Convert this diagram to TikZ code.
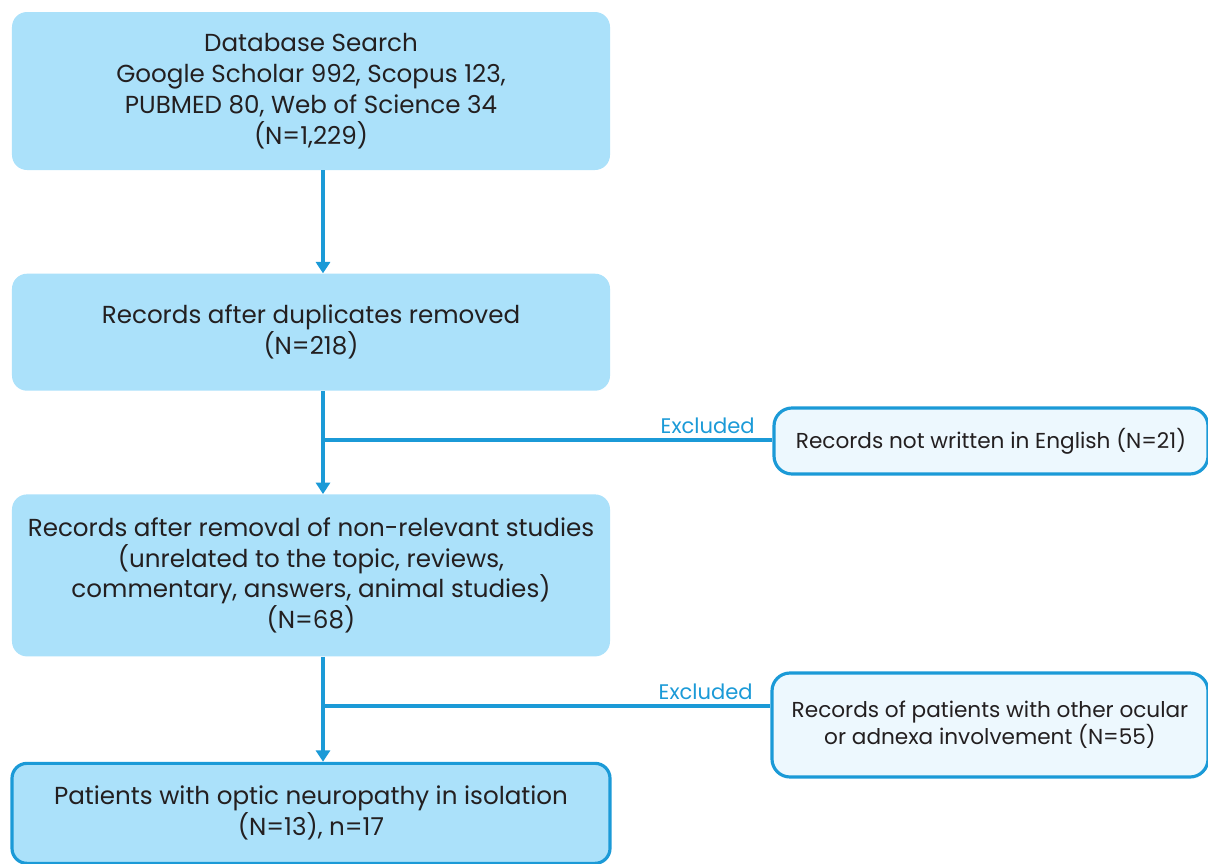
\documentclass[tikz,border=0pt]{standalone}
\usepackage{fontspec}
\setmainfont{Poppins}
\usetikzlibrary{arrows.meta, positioning}
\definecolor{boxblue}{HTML}{ABE1FA}
\definecolor{lineblue}{HTML}{1B9AD7}
\definecolor{paleblue}{HTML}{EDF8FE}
\definecolor{inkgray}{HTML}{231F20}
\tikzset{
  stage/.style={rectangle, rounded corners=0.3cm, minimum width=11.96cm, align=center, fill=boxblue, text=inkgray, font=\fontsize{14}{17.6}\selectfont},
  final/.style={stage, draw=lineblue, line width=1.8pt},
  excluded/.style={rectangle, rounded corners=0.36cm, align=center, draw=lineblue, line width=1.8pt, fill=paleblue, text=inkgray, font=\fontsize{12.3}{15.5}\selectfont},
  link/.style={draw=lineblue, line width=2pt},
  arrow/.style={link, -{Triangle[width=8pt,length=6.5pt]}},
  exclabel/.style={text=lineblue, font=\fontsize{12}{14}\selectfont, inner sep=0.1cm, anchor=south east, xshift=-0.22cm}
}

\begin{document}
\begin{tikzpicture}[node distance=2.06cm]
  \useasboundingbox (0,0) rectangle (24.16,-17.26);

  \node (search) [stage, minimum height=3.16cm] at (6.22,-1.82) {Database Search\\Google Scholar 992, Scopus 123,\\PUBMED 80, Web of Science 34\\(N=1,229)};
  \node (dedup) [stage, minimum height=2.34cm, below=of search] {Records after duplicates removed\\(N=218)};
  \node (relevant) [stage, minimum height=3.24cm, below=of dedup] {Records after removal of non-relevant studies\\(unrelated to the topic, reviews,\\commentary, answers, animal studies)\\(N=68)};
  \node (isolation) [final, minimum height=2.0cm, below=2.1cm of relevant] {Patients with optic neuropathy in isolation\\(N=13), n=17};

  \node (notenglish) [excluded, minimum width=8.68cm, minimum height=1.32cm] at (19.82,-8.82) {Records not written in English (N=21)};
  \node (otherocular) [excluded, minimum width=8.72cm, minimum height=2.08cm] at (19.80,-14.50) {Records of patients with other ocular\\or adnexa involvement (N=55)};

  \coordinate (spine) at (6.46,0);
  \coordinate (cut1) at (6.46,-8.80);
  \coordinate (cut2) at (6.46,-14.12);

  \draw [arrow] (search.south -| spine) -- (dedup.north -| spine);
  \draw [arrow] (dedup.south -| spine) -- (relevant.north -| spine);
  \draw [arrow] (relevant.south -| spine) -- (isolation.north -| spine);
  \draw [link] (cut1) -- node[exclabel, pos=1] {Excluded} (cut1 -| notenglish.west);
  \draw [link] (cut2) -- node[exclabel, pos=1] {Excluded} (cut2 -| otherocular.west);

\end{tikzpicture}
\end{document}
